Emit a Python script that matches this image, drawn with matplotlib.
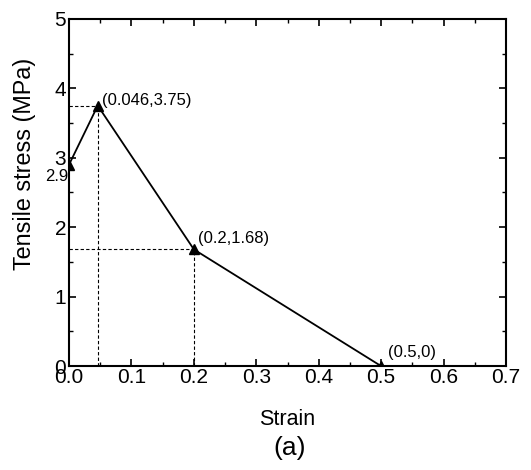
import matplotlib
matplotlib.use("Agg")
import matplotlib.pyplot as plt
from matplotlib.ticker import MultipleLocator

plt.rcParams['font.family'] = ['Liberation Sans', 'DejaVu Sans']

strain = [0.0, 0.046, 0.2, 0.5]
stress = [2.9, 3.75, 1.68, 0.0]
point_labels = ["2.9", "(0.046,3.75)", "(0.2,1.68)", "(0.5,0)"]

fig = plt.figure(figsize=(5.31, 4.70), dpi=100)
ax = fig.add_axes([0.130, 0.221, 0.823, 0.739])

ax.plot(strain, stress, color='black', lw=1.3, marker='^', ms=7, clip_on=True, zorder=3)

# dashed guide lines to the peak and the knee
for x, y in zip(strain[1:3], stress[1:3]):
    ax.plot([0, x], [y, y], ls=(0, (3, 2)), color='black', lw=0.8)
    ax.plot([x, x], [0, y], ls=(0, (3, 2)), color='black', lw=0.8)

ax.text(-0.001, 2.73, point_labels[0], ha='right', va='center', fontsize=12, clip_on=False)
ax.text(strain[1] + 0.007, stress[1] + 0.08, point_labels[1], ha='left', va='center', fontsize=12)
ax.text(strain[2] + 0.007, stress[2] + 0.16, point_labels[2], ha='left', va='center', fontsize=12)
ax.text(strain[3] + 0.011, 0.2, point_labels[3], ha='left', va='center', fontsize=12)

ax.set_xlim(0, 0.7)
ax.set_ylim(0, 5)
ax.xaxis.set_major_locator(MultipleLocator(0.1))
ax.xaxis.set_minor_locator(MultipleLocator(0.05))
ax.yaxis.set_major_locator(MultipleLocator(1))
ax.yaxis.set_minor_locator(MultipleLocator(0.5))
ax.xaxis.set_major_formatter(plt.FormatStrFormatter('%.1f'))
ax.tick_params(which='both', direction='in', top=True, right=True, labelsize=15)
ax.tick_params(which='major', length=5, width=1.2)
ax.tick_params(which='minor', length=3, width=1)
ax.tick_params(axis='x', pad=1)
ax.tick_params(axis='y', pad=2)
for s in ax.spines.values():
    s.set_linewidth(1.5)

ax.set_xlabel("Strain", fontsize=15.5, labelpad=16)
ax.set_ylabel("Tensile stress (MPa)", fontsize=16.8)
ax.yaxis.set_label_coords(-0.075, 0.582)
fig.text(0.545, 0.046, "(a)", ha='center', va='center', fontsize=19)

fig.savefig("out.png", dpi=100)
